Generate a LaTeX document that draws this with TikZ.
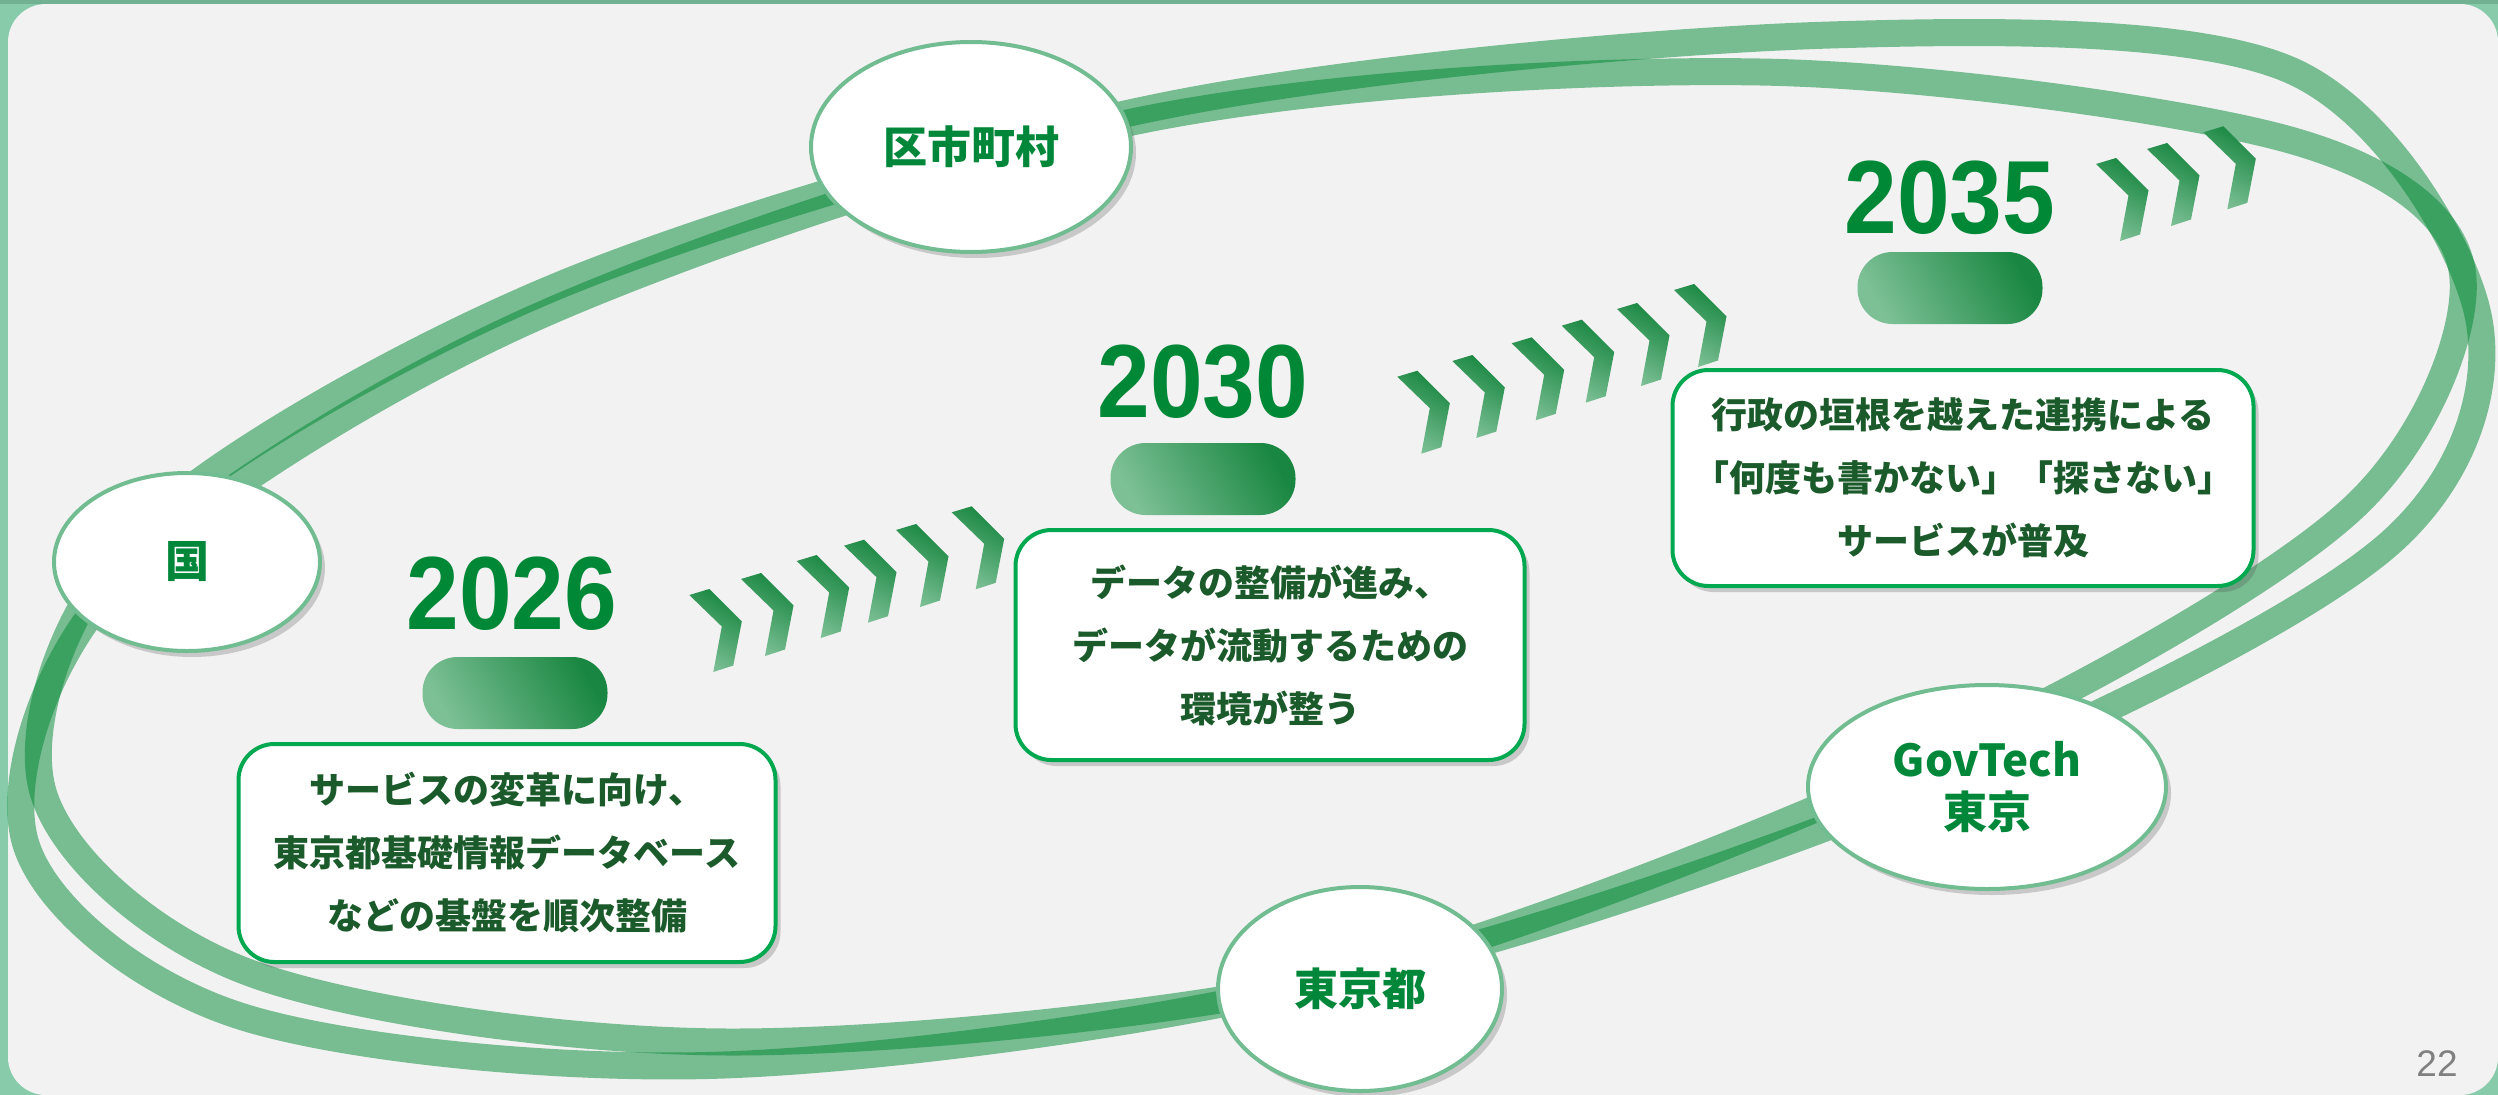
\documentclass[tikz,border=0pt]{standalone}
\usepackage{fontspec}
\newfontfamily\jp{Noto Sans CJK JP}
\newfontfamily\yrfont{Liberation Sans}[FakeStretch=0.91]
\newfontfamily\pgfont{Liberation Sans}
\usetikzlibrary{shapes.geometric,shadows}
\definecolor{bgreen}{HTML}{88CBAB}
\definecolor{topg}{HTML}{72B293}
\definecolor{panel}{HTML}{F2F2F2}
\definecolor{ringc}{RGB}{0,135,50}
\definecolor{ndborder}{HTML}{72BC91}
\definecolor{ndtext}{RGB}{0,135,58}
\definecolor{bxborder}{RGB}{0,168,80}
\definecolor{bxtext}{RGB}{27,90,42}
\definecolor{cdark}{RGB}{25,135,65}
\definecolor{clight}{RGB}{125,192,150}
\definecolor{yrc}{RGB}{0,136,55}
\definecolor{pgnum}{RGB}{128,128,128}
\tikzset{
  ring/.style={line width=27pt, draw=ringc, draw opacity=0.5},
  myshadow/.style={drop shadow={shadow xshift=5pt, shadow yshift=-6pt, opacity=0.25, fill=black!70}},
  actor/.style={ellipse, draw=ndborder, line width=4pt, fill=white, inner sep=0pt,
    font=\jp\bfseries\fontsize{44}{52}\selectfont, text=ndtext, align=center, myshadow},
  tbox/.style={rectangle, rounded corners=36pt, draw=bxborder, line width=4pt, fill=white,
    inner sep=0pt, align=center, text=bxtext, font=\jp\bfseries\fontsize{36}{63}\selectfont, myshadow},
  yr/.style={font=\yrfont\bfseries\fontsize{104}{110}\selectfont, text=yrc, anchor=base, inner sep=0pt},
  pill/.style={rectangle, rounded corners=35pt, minimum width=185pt, minimum height=72pt, inner sep=0pt,
    top color=cdark, bottom color=clight, shading angle=-60},
  chevshade/.style={top color=cdark, bottom color=clight, shading angle=-30},
  chevron/.pic={\shade[chevshade] (0,0) -- (20,-6) -- (52.5,26.5) -- (44,70.5) -- (24,77) -- (32.5,31.5) -- cycle;}
}
\begin{document}
\begin{tikzpicture}[x=1pt,y=-1pt]
\clip (0,0) rectangle (2498,1095);
% background
\fill[bgreen] (0,0) rectangle (2498,1095);
\fill[topg] (0,0) rectangle (2498,3.5);
\fill[panel, rounded corners=38pt] (8,4) rectangle (2498,1095);
% rings
\draw[ring] plot[smooth cycle, tension=0.53] coordinates {
  (2462,270) (2290,140) (1760,72) (1142,120) (530,320) (120,580)
  (25,841) (240,1016) (724,1065) (1348,976) (1944,752) (2353,508)};
\draw[ring] plot[smooth cycle, tension=0.53] coordinates {
  (2478,315) (2290,70) (1830,35) (1173,104) (560,285) (140,530)
  (42,788) (250,973) (729,1042) (1351,976) (1960,775) (2390,543)};
% chevrons
\foreach \x/\y in {689.3/595, 741/579, 796.7/561, 844/545.7, 896/530, 951.7/512.3,
                   1397.3/376.7, 1452.3/361, 1511.7/343.3, 1561.7/325.7, 1617/309, 1674/290,
                   2096/164, 2147/149, 2203.3/132.3}
  \pic at (\x,\y) {chevron};
% years and pills
\node[yr] (y26) at (512,629) {2026};
\node[yr] (y30) at (1203,417) {2030};
\node[yr] (y35) at (1950,233) {2035};
\node[pill] (p26) at (515,693) {};
\node[pill] (p30) at (1203,479) {};
\node[pill] (p35) at (1950,288) {};
% text boxes
\node[tbox, minimum width=537pt, minimum height=218pt] (b26) at (507,853)
  {サービスの変革に向け、\\東京都基礎情報データベース\\などの基盤を順次整備};
\node[tbox, minimum width=509pt, minimum height=230pt] (b30) at (1270,645)
  {データの整備が進み、\\データが流動するための\\環境が整う};
\node[tbox, minimum width=581pt, minimum height=216pt] (b35) at (1963,478)
  {行政の垣根を越えた連携による\\「何度も書かない」「探さない」\\サービスが普及};
% actor ellipses
\node[actor, minimum width=320pt, minimum height=210pt] (kushi) at (971,147) {区市町村};
\node[actor, minimum width=266pt, minimum height=178pt] (kuni) at (187,562) {国};
\node[actor, minimum width=284pt, minimum height=204pt] (tokyo) at (1360,989) {東京都};
\node[actor, minimum width=358pt, minimum height=204pt] (govt) at (1987,787) {GovTech\\東京};
% page number
\node[font=\pgfont\fontsize{37}{40}\selectfont, text=pgnum, anchor=base, inner sep=0pt] (pg) at (2437,1076) {22};
\end{tikzpicture}
\end{document}
